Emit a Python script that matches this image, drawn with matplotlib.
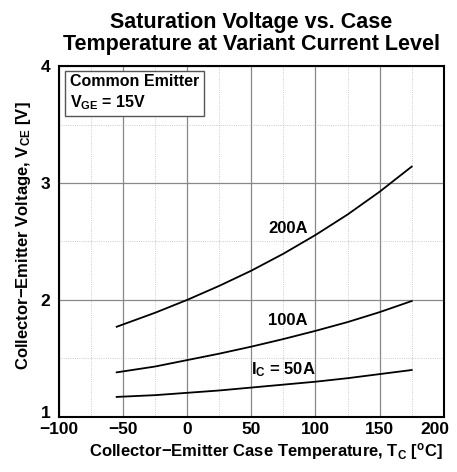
import matplotlib
matplotlib.use("Agg")
import matplotlib.pyplot as plt
import matplotlib.transforms as mtransforms
import numpy as np
from matplotlib.ticker import MultipleLocator

plt.rcParams['font.family'] = ['Liberation Sans', 'DejaVu Sans']
plt.rcParams['font.weight'] = 'bold'
plt.rcParams['axes.labelweight'] = 'bold'
plt.rcParams['mathtext.fontset'] = 'custom'
plt.rcParams['mathtext.rm'] = 'Liberation Sans:bold'
plt.rcParams['mathtext.bf'] = 'Liberation Sans:bold'
plt.rcParams['mathtext.it'] = 'Liberation Sans:bold'

# case temperature [C] and saturation voltage [V]
temp = [-55, -25, 0, 25, 50, 75, 100, 125, 150, 175]
v_50a = [1.17, 1.185, 1.205, 1.225, 1.25, 1.275, 1.30, 1.33, 1.365, 1.40]
v_100a = [1.38, 1.43, 1.485, 1.54, 1.60, 1.665, 1.735, 1.81, 1.895, 1.99]
v_200a = [1.77, 1.89, 2.0, 2.12, 2.25, 2.395, 2.555, 2.73, 2.925, 3.14]
curve_labels = ["I$_{\\mathbf{C}}$ = 50A", "100A", "200A"]
xticks = [-100, -50, 0, 50, 100, 150, 200]
yticks = [1, 2, 3, 4]

fig, ax = plt.subplots(figsize=(4.57, 4.72), dpi=100)
fig.subplots_adjust(left=0.129, right=0.971, bottom=0.117, top=0.860)

for v in (v_50a, v_100a, v_200a):
    ax.plot(temp, v, color='black', lw=1.3, solid_joinstyle='round')

ax.set_xlim(-100, 200)
ax.set_ylim(1, 4)
ax.set_xticks(xticks)
ax.set_yticks(yticks)
ax.xaxis.set_minor_locator(MultipleLocator(25))
ax.yaxis.set_minor_locator(MultipleLocator(0.5))
ax.grid(which='major', color='#888888', lw=0.9)
ax.grid(which='minor', color='#bbbbbb', lw=0.6, ls=':')
ax.tick_params(which='both', length=0, labelsize=12.5)
ax.tick_params(axis='x', pad=4)
ax.tick_params(axis='y', pad=6)
for lab in ax.get_xticklabels() + ax.get_yticklabels():
    lab.set_fontweight('bold')
# keep the last x tick label inside the figure
last = ax.get_xticklabels()[-1]
last.set_transform(last.get_transform() + mtransforms.ScaledTranslation(-9 / 100, 0, fig.dpi_scale_trans))
# lift the bottom y tick label a bit, as in the original
first = ax.get_yticklabels()[0]
first.set_transform(first.get_transform() + mtransforms.ScaledTranslation(0, 5 / 100, fig.dpi_scale_trans))
for s in ax.spines.values():
    s.set_linewidth(1.5)

ax.text(75, 1.40, curve_labels[0], fontsize=12, ha='center', va='center')
ax.text(78, 1.82, curve_labels[1], fontsize=12, ha='center', va='center')
ax.text(78.5, 2.61, curve_labels[2], fontsize=12, ha='center', va='center')

ax.text(-91.4, 3.77, "Common Emitter\nV$_{\\mathbf{GE}}$ = 15V", fontsize=11.5,
        ha='left', va='center', linespacing=1.25,
        bbox=dict(boxstyle='square,pad=0.3', fc='white', ec='#555555', lw=1))

ax.set_xlabel("Collector\u2212Emitter Case Temperature, T$_{\\mathbf{C}}$ [$^{\\mathbf{o}}$C]",
              fontsize=12)
ax.xaxis.set_label_coords(0.538, -0.068)
ax.set_ylabel("Collector\u2212Emitter Voltage, V$_{\\mathbf{CE}}$ [V]", fontsize=12)
ax.yaxis.set_label_coords(-0.068, 0.516)
fig.text(0.55, 0.975, "Saturation Voltage vs. Case\nTemperature at Variant Current Level",
         fontsize=15.5, fontweight='bold', ha='center', va='top', linespacing=1.1)

fig.savefig("out.png", dpi=100)
